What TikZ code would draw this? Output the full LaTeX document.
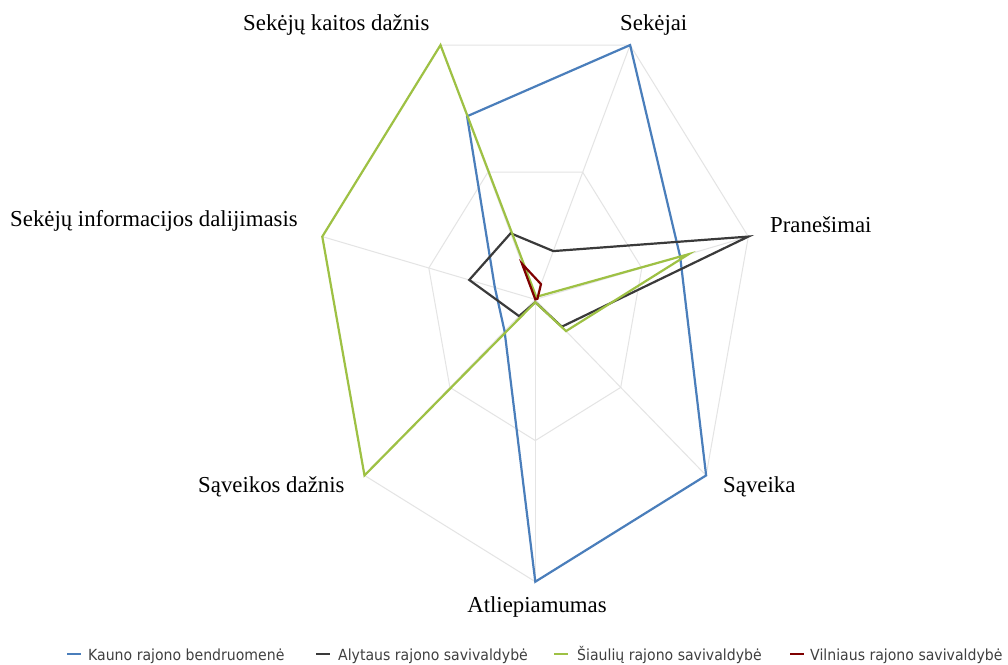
\documentclass[tikz,border=0pt]{standalone}
\usepackage{fontspec}
\setmainfont{Liberation Serif}
\newfontfamily\legfont[FakeStretch=0.92]{DejaVu Sans}
\definecolor{kauno}{HTML}{4A7EBB}
\definecolor{alytaus}{HTML}{3A3A3A}
\definecolor{siauliu}{HTML}{9EC144}
\definecolor{vilniaus}{HTML}{7F0000}
\definecolor{gridc}{HTML}{E4E4E4}
\tikzset{
  gridline/.style={draw=gridc, line width=1pt},
  series/.style={line width=2.2pt, line join=miter},
  axlabel/.style={font=\fontsize{22.8}{24}\selectfont, inner sep=0pt},
  leglabel/.style={font=\legfont\fontsize{15.3}{17}\selectfont, inner sep=0pt, anchor=base west, text=black!75},
  legline/.style={line width=2.2pt}
}
\begin{document}
\begin{tikzpicture}[x=1pt,y=-1pt]
\useasboundingbox (0,0) rectangle (1008,664);
\fill[white] (0,0) rectangle (1008,664);
\coordinate (C) at (535.3,299.4);
% grid
\foreach \k in {0,...,6} {
  \coordinate (o\k) at ({535.3+218.5*cos(-90+\k*360/7)},{299.4-282.3*sin(-90+\k*360/7)});
  \coordinate (i\k) at ({535.3+0.5*218.5*cos(-90+\k*360/7)},{299.4-0.5*282.3*sin(-90+\k*360/7)});
}
\foreach \k in {0,...,6} { \draw[gridline] (C) -- (o\k); }
\draw[gridline] (o0)--(o1)--(o2)--(o3)--(o4)--(o5)--(o6)--cycle;
\draw[gridline] (i0)--(i1)--(i2)--(i3)--(i4)--(i5)--(i6)--cycle;
% series points: order Atliepiamumas, Saveika, Pranesimai, Sekejai, kaitos, informacijos, Saveikos daznis
\foreach \v [count=\k from 0] in {1,1,0.68,1,0.72,0.19,0.18} {
  \coordinate (b\k) at ({535.3+\v*218.5*cos(-90+\k*360/7)},{299.4-\v*282.3*sin(-90+\k*360/7)});
}
\foreach \v [count=\k from 0] in {0.01,0.155,1,0.19,0.26,0.31,0.095} {
  \coordinate (a\k) at ({535.3+\v*218.5*cos(-90+\k*360/7)},{299.4-\v*282.3*sin(-90+\k*360/7)});
}
\foreach \v [count=\k from 0] in {0.01,0.18,0.72,0.01,1,1,1} {
  \coordinate (s\k) at ({535.3+\v*218.5*cos(-90+\k*360/7)},{299.4-\v*282.3*sin(-90+\k*360/7)});
}
\foreach \v [count=\k from 0] in {0.0,0.0,0.01,0.06,0.14,0.0,0.0} {
  \coordinate (v\k) at ({535.3+\v*218.5*cos(-90+\k*360/7)},{299.4-\v*282.3*sin(-90+\k*360/7)});
}
\draw[series, kauno] (b0)--(b1)--(b2)--(b3)--(b4)--(b5)--(b6)--cycle;
\draw[series, alytaus] (a0)--(a1)--(a2)--(a3)--(a4)--(a5)--(a6)--cycle;
\draw[series, siauliu] (s0)--(s1)--(s2)--(s3)--(s4)--(s5)--(s6)--cycle;
\draw[series, vilniaus] (v0)--(v1)--(v2)--(v3)--(v4)--(v5)--(v6)--cycle;
% axis labels
\node[axlabel, anchor=base west] (l4) at (243,30) {Sekėjų kaitos dažnis};
\node[axlabel, anchor=base west] (l3) at (620,30) {Sekėjai};
\node[axlabel, anchor=base west] (l2) at (770,232) {Pranešimai};
\node[axlabel, anchor=base west] (l5) at (10,226) {Sekėjų informacijos dalijimasis};
\node[axlabel, anchor=base west] (l6) at (198,492) {Sąveikos dažnis};
\node[axlabel, anchor=base west] (l1) at (723,492) {Sąveika};
\node[axlabel, anchor=base] (l0) at (537,612) {Atliepiamumas};
% legend
\coordinate (k1) at (67,654); \coordinate (k2) at (81,654);
\draw[legline, kauno] (k1) -- (k2);
\node[leglabel] (kt) at (88,660) {Kauno rajono bendruomenė};
\coordinate (al1) at (316,654); \coordinate (al2) at (330,654);
\draw[legline, alytaus] (al1) -- (al2);
\node[leglabel] (at) at (338,660) {Alytaus rajono savivaldybė};
\coordinate (s1l) at (554,654); \coordinate (s2l) at (568,654);
\draw[legline, siauliu] (s1l) -- (s2l);
\node[leglabel] (st) at (577,660) {Šiaulių rajono savivaldybė};
\coordinate (v1l) at (790,654); \coordinate (v2l) at (804,654);
\draw[legline, vilniaus] (v1l) -- (v2l);
\node[leglabel] (vt) at (810,660) {Vilniaus rajono savivaldybė};
\end{tikzpicture}
\end{document}
